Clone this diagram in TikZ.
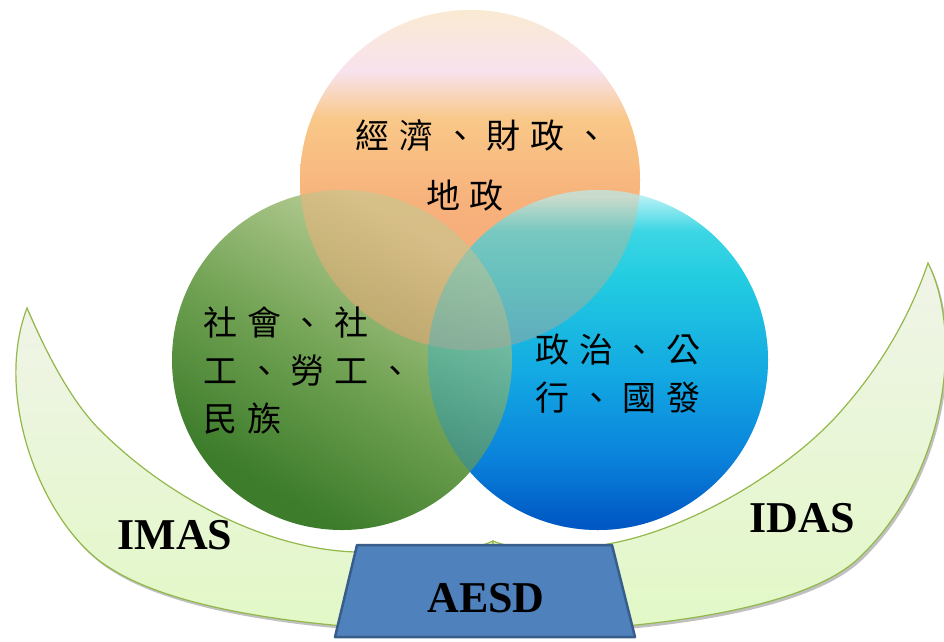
\documentclass[tikz,border=0pt]{standalone}
\usepackage{fontspec}
\setmainfont{Liberation Serif}
\newfontfamily\cjk[LetterSpace=29]{Noto Sans CJK TC}
\definecolor{econtop}{RGB}{250,234,210}
\definecolor{econpink}{RGB}{248,226,238}
\definecolor{econlight}{RGB}{249,200,136}
\definecolor{econmid}{RGB}{247,178,124}
\definecolor{econdark}{RGB}{244,162,116}
\definecolor{socdark}{RGB}{60,124,42}
\definecolor{socmid}{RGB}{116,164,86}
\definecolor{soclight}{RGB}{184,206,150}
\definecolor{poledge}{RGB}{180,240,245}
\definecolor{poltop}{RGB}{60,214,228}
\definecolor{pollight}{RGB}{34,204,224}
\definecolor{polmid}{RGB}{18,166,226}
\definecolor{poldeep}{RGB}{10,128,218}
\definecolor{poldark}{RGB}{0,88,196}
\definecolor{armfill}{RGB}{226,248,198}
\definecolor{armtip}{RGB}{240,244,232}
\definecolor{armline}{RGB}{146,184,74}
\definecolor{armshadow}{RGB}{150,150,150}
\definecolor{aesdfill}{RGB}{79,129,189}
\definecolor{aesdline}{RGB}{56,93,138}
\pgfdeclareverticalshading{econshade}{100bp}{color(0bp)=(econdark); color(26bp)=(econdark); color(47bp)=(econmid); color(59bp)=(econlight); color(66bp)=(econpink); color(75bp)=(econtop); color(100bp)=(econtop)}
\pgfdeclareverticalshading{socshade}{100bp}{color(0bp)=(socdark); color(28bp)=(socdark); color(50bp)=(socmid); color(72bp)=(soclight); color(100bp)=(soclight)}
\pgfdeclareverticalshading{polshade}{100bp}{color(0bp)=(poldark); color(26bp)=(poldark); color(35bp)=(poldeep); color(47bp)=(polmid); color(62bp)=(pollight); color(69bp)=(poltop); color(74bp)=(poledge); color(100bp)=(poledge)}
\tikzset{
	bubble/.style={circle, inner sep=0pt, outer sep=0pt, minimum size=340pt, shade},
	cjktext/.style={font=\cjk\fontsize{34}{48}\selectfont, inner sep=0pt},
	armlabel/.style={font=\bfseries\fontsize{44}{44}\selectfont, inner sep=0pt},
}

\begin{document}
\begin{tikzpicture}[x=1pt, y=-1pt]

	\tikzstyle{arm}=[draw=armline, line width=1.2pt, top color=armtip, bottom color=armfill]
	\tikzstyle{armshade}=[fill=armshadow, fill opacity=0.6, xshift=2pt, yshift=-3pt]
	\tikzstyle{aesdbox}=[fill=aesdfill, draw=aesdline, line width=2.5pt, line join=round]

	\def \radius {170}
	\def \leftarm {(27,308) .. controls (-8,400) and (45,529) .. (110,568) .. controls (180,613) and (330,632) .. (493,632) -- (493,541) .. controls (470,552) and (420,556) .. (357,552) .. controls (270,550) and (170,500) .. (100,430) .. controls (70,400) and (45,350) .. (27,308) -- cycle}
	\def \rightarm {(928,263) .. controls (962,330) and (950,470) .. (860,557) .. controls (800,615) and (620,632) .. (493,632) -- (493,541) .. controls (520,552) and (570,552) .. (613,543) .. controls (690,528) and (780,475) .. (833,420) .. controls (870,380) and (905,330) .. (928,263) -- cycle}

	\useasboundingbox (0,0) rectangle (944,641);
	\clip (0,0) rectangle (944,641);

	% the two arms
	\fill[armshade] \leftarm;
	\fill[armshade] \rightarm;
	\draw[arm] \leftarm;
	\draw[arm] \rightarm;

	% three fields
	\node at (470,180) (econ) [bubble, shading=econshade] {};
	\node at (598,360) (pol) [bubble, shading=polshade] {};
	\node at (342,360) (soc) [bubble, shading=socshade, shading angle=-30] {};
	\path[shade, shading=econshade, fill opacity=0.5] (econ.center) circle (\radius);
	\path[shade, shading=polshade, fill opacity=0.35] (pol.center) circle (\radius);

	\node at (482,165) (econtext) [cjktext, font=\cjk\fontsize{34}{60}\selectfont, align=center] {經濟、財政、\\地政\hphantom{、}};
	\node at (203,307) (soctext) [cjktext, anchor=north west, align=left] {社會、社\\工、勞工、\\民族};
	\node at (535,334) (poltext) [cjktext, anchor=north west, align=left] {政治、公\\行、國發};

	\node at (175,535) (imas) [armlabel] {IMAS};
	\node at (802,518) (idas) [armlabel] {IDAS};

	% base
	\filldraw[aesdbox] (335,637) -- (357,545) -- (612,545) -- (635,637) -- cycle;
	\node at (486,598) (aesd) [armlabel] {AESD};
\end{tikzpicture}
\end{document}
